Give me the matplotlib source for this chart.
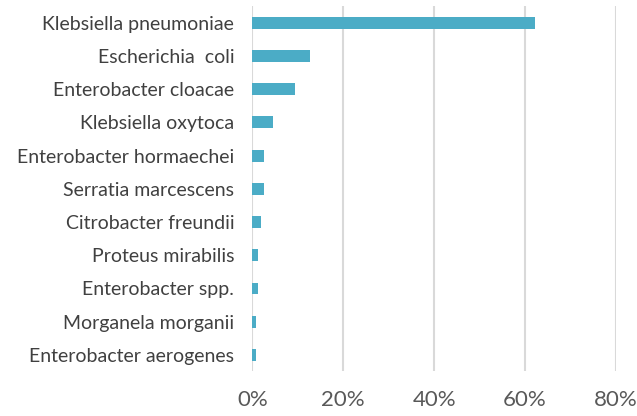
import matplotlib.pyplot as plt
from matplotlib.ticker import PercentFormatter

# species and share of isolates (%)
species = ['Klebsiella pneumoniae', 'Escherichia  coli', 'Enterobacter cloacae',
           'Klebsiella oxytoca', 'Enterobacter hormaechei', 'Serratia marcescens',
           'Citrobacter freundii', 'Proteus mirabilis', 'Enterobacter spp.',
           'Morganela morganii', 'Enterobacter aerogenes']
share = [62.2, 12.6, 9.3, 4.6, 2.6, 2.6, 2.0, 1.25, 1.25, 0.75, 0.75]
xticks = [0, 20, 40, 60, 80]

plt.rcParams['font.family'] = ['Lato', 'DejaVu Sans']

fig = plt.figure(figsize=(6.37, 4.16), dpi=100)
ax = fig.add_axes([0.396, 0.107, 0.571, 0.878])

ax.barh(species, share, height=0.36, color='#4bacc6', zorder=3)
ax.set_ylim(10.5, -0.5)
ax.set_xlim(0, 80)
ax.set_xticks(xticks)
ax.xaxis.set_major_formatter(PercentFormatter(decimals=0))

ax.grid(axis='x', color='#d9d9d9', linewidth=1.5, zorder=0)
for s in ax.spines.values():
    s.set_visible(False)
ax.tick_params(axis='x', length=0, pad=13, labelsize=16, labelcolor='#595959')
ax.tick_params(axis='y', length=0, pad=13, labelsize=14, labelcolor='#404040')

fig.savefig('out.png', dpi=100)
